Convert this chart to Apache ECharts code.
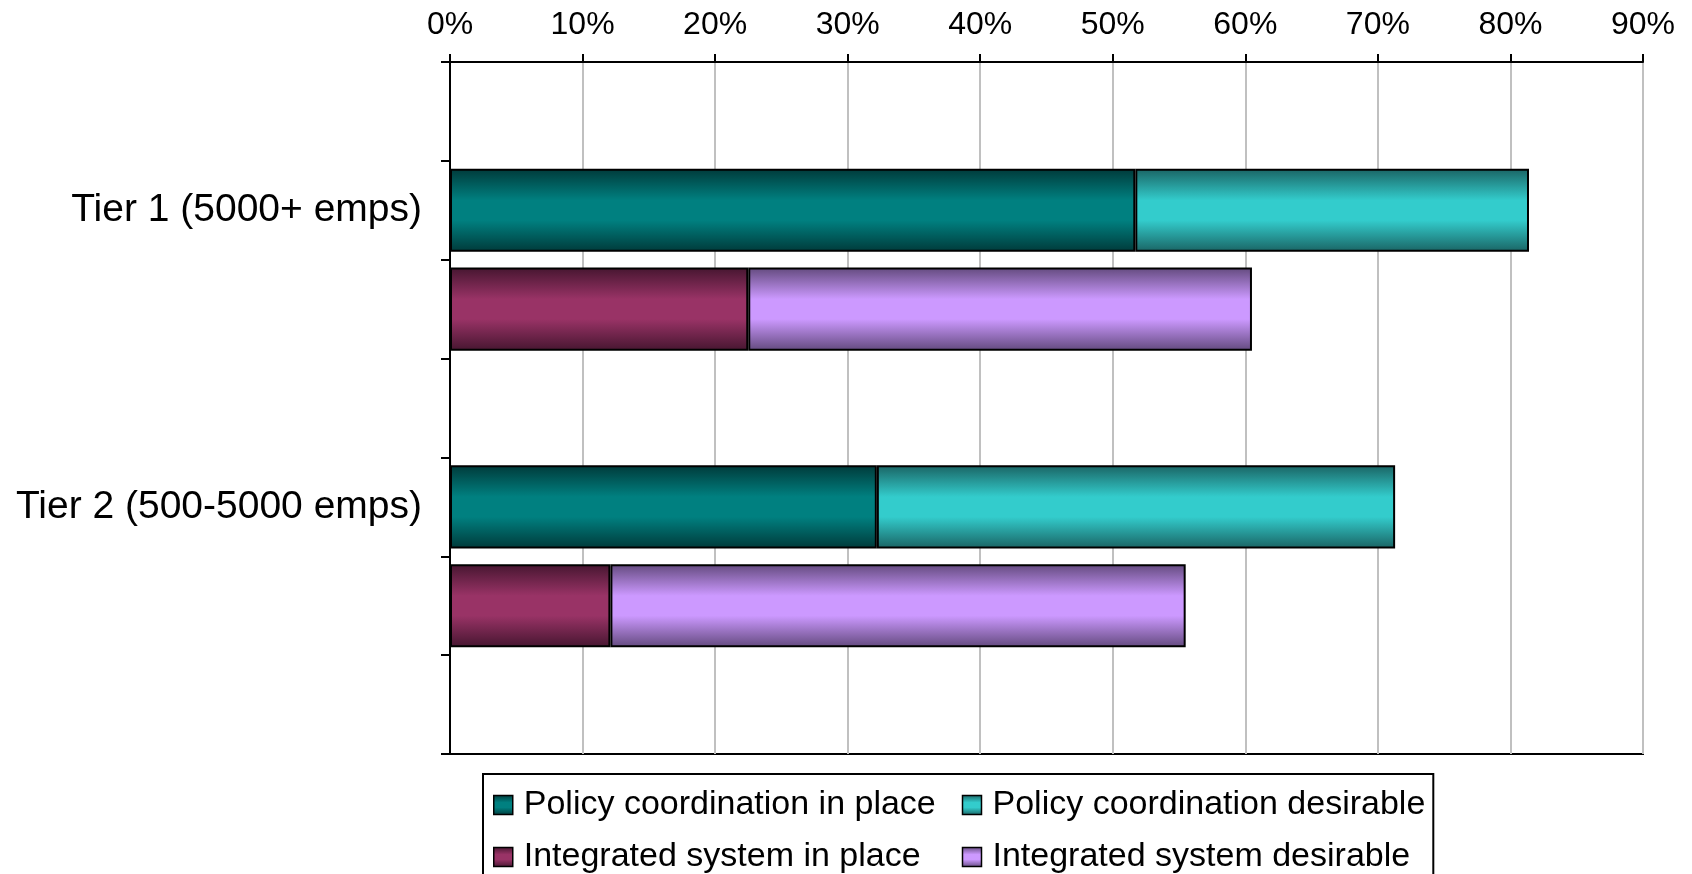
<!DOCTYPE html>
<html>
<head>
<meta charset="utf-8">
<script src="https://cdn.jsdelivr.net/npm/echarts@6/dist/echarts.min.js"></script>
<style>
html,body{margin:0;padding:0;background:#fff;}
#chart{width:1692px;height:874px;}
</style>
</head>
<body>
<div id="chart"></div>
<script>
// ---- data ----
const tiers = ['Tier 1 (5000+ emps)', 'Tier 2 (500-5000 emps)'];
const policyInPlace = [51.7, 32.2];
const policyDesirable = [29.7, 39.1];
const integratedInPlace = [22.5, 12.1];
const integratedDesirable = [38.0, 43.4];
const seriesNames = ['Policy coordination in place', 'Policy coordination desirable', 'Integrated system in place', 'Integrated system desirable'];
const xTicks = [0, 10, 20, 30, 40, 50, 60, 70, 80, 90];

// ---- row layout: blank, policy row (labelled), integrated row, blank ... ----
const rows = [];
const rowKind = [];
rows.push('blank_start'); rowKind.push(null);
tiers.forEach((t, i) => {
  rows.push(t); rowKind.push({tier: i, kind: 'policy'});
  rows.push('integrated_' + i); rowKind.push({tier: i, kind: 'integrated'});
  rows.push('blank_' + i); rowKind.push(null);
});
function rowData(values, kind) {
  return rowKind.map(r => (r && r.kind === kind) ? values[r.tier] : '-');
}

function grad(edge, mid) {
  return new echarts.graphic.LinearGradient(0, 0, 0, 1, [
    {offset: 0, color: edge},
    {offset: 0.38, color: mid},
    {offset: 0.62, color: mid},
    {offset: 1, color: edge}
  ]);
}
const colors = [
  grad('#003a3a', '#008080'),
  grad('#1a6464', '#33CCCC'),
  grad('#461630', '#993366'),
  grad('#634a7e', '#CC99FF')
];
const seriesValues = [
  rowData(policyInPlace, 'policy'),
  rowData(policyDesirable, 'policy'),
  rowData(integratedInPlace, 'integrated'),
  rowData(integratedDesirable, 'integrated')
];

const FONT = "'Liberation Sans', Arial, sans-serif";
const chart = echarts.init(document.getElementById('chart'), null, {renderer: 'canvas'});
chart.setOption({
  backgroundColor: '#ffffff',
  animation: false,
  grid: {
    left: 450, right: 49, top: 62, bottom: 120,
    show: true, borderColor: '#000', borderWidth: 2,
    containLabel: false, outerBoundsMode: 'none'
  },
  xAxis: {
    type: 'value', position: 'top',
    min: xTicks[0], max: xTicks[xTicks.length - 1], interval: xTicks[1] - xTicks[0],
    axisLine: {show: true, lineStyle: {color: '#000', width: 2}},
    axisTick: {show: true, length: 8, lineStyle: {color: '#000', width: 2}},
    axisLabel: {
      formatter: '{value}%', color: '#000', fontSize: 32, margin: 21,
      fontFamily: FONT
    },
    splitLine: {show: true, lineStyle: {color: '#c0c0c0', width: 2}}
  },
  yAxis: {
    type: 'category', inverse: true, data: rows,
    axisLine: {show: true, lineStyle: {color: '#000', width: 2}},
    axisTick: {show: true, interval: 0, length: 9, alignWithLabel: false, lineStyle: {color: '#000', width: 2}},
    axisLabel: {
      interval: 0, color: '#000', fontSize: 39, margin: 28, fontFamily: FONT,
      formatter: v => tiers.indexOf(v) >= 0 ? v : ''
    },
    splitLine: {show: false}
  },
  legend: {
    left: 483, top: 774, width: 935,
    padding: [14, 8, 14, 10],
    borderColor: '#000', borderWidth: 2,
    itemWidth: 19, itemHeight: 19, itemGap: 18,
    icon: 'rect',
    itemStyle: {borderColor: '#000', borderWidth: 1.5},
    textStyle: {color: '#000', fontSize: 34, fontFamily: FONT, width: 420, padding: [0, 0, 0, 6], overflow: 'none', lineHeight: 24},
    data: seriesNames
  },
  series: seriesNames.map((name, i) => ({
    name: name, type: 'bar', stack: 'total',
    barCategoryGap: '16%',
    data: seriesValues[i],
    itemStyle: {color: colors[i], borderColor: '#000', borderWidth: 2}
  }))
});
</script>
</body>
</html>
